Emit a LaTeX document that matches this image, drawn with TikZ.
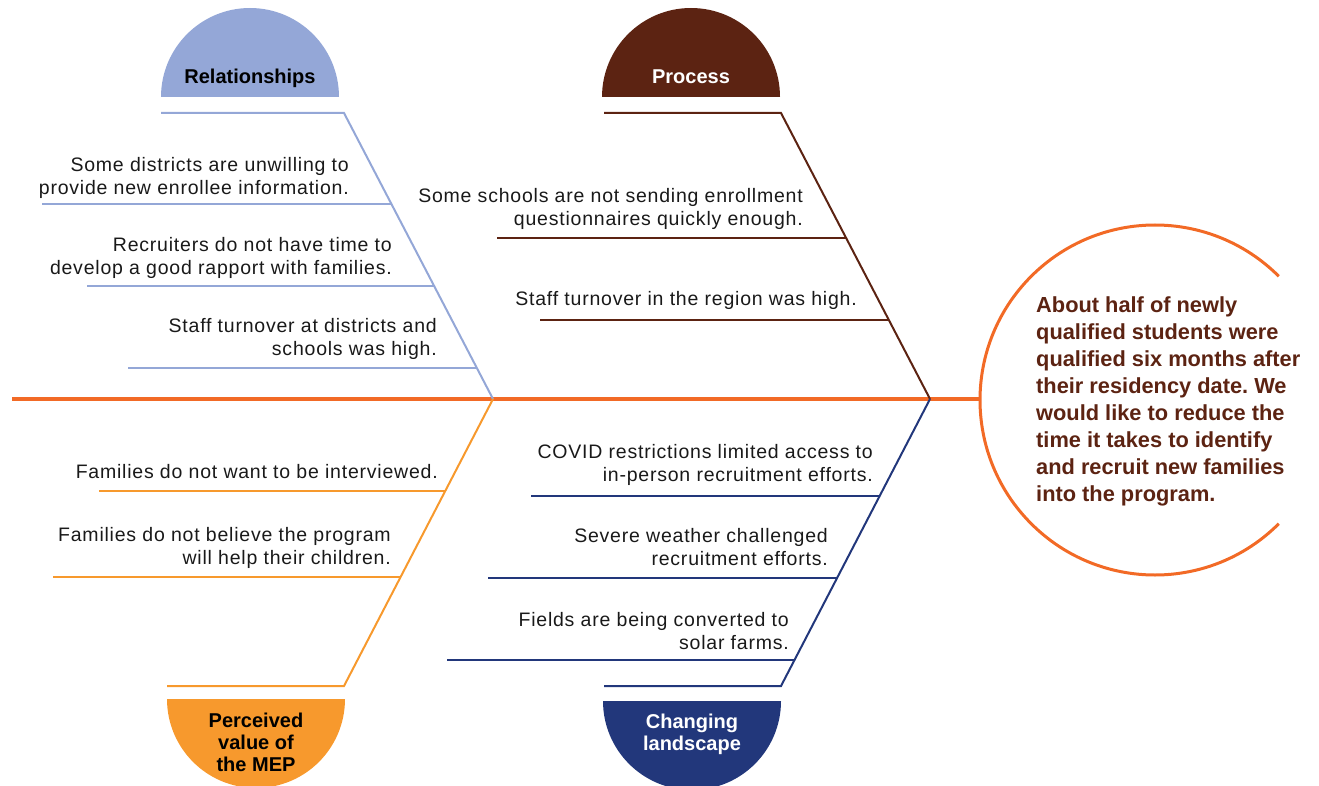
\documentclass[tikz,border=0pt]{standalone}
\usepackage{fontspec}
\setmainfont{Liberation Sans}
\newfontfamily\causefont[LetterSpace=4]{Liberation Sans}
\usepackage{xcolor}
\frenchspacing

\definecolor{spinecol}{RGB}{242,106,38}
\definecolor{relcol}{RGB}{148,167,215}
\definecolor{proccol}{RGB}{92,35,18}
\definecolor{valcol}{RGB}{247,153,45}
\definecolor{landcol}{RGB}{34,55,123}
\definecolor{causecol}{RGB}{25,25,25}

\begin{document}
\begin{tikzpicture}[x=1pt,y=-1pt,
        bone/.style={line width=2pt},
        cause/.style={font=\causefont\fontsize{19.5}{23}\selectfont,text=causecol,align=right,inner sep=0pt,anchor=east},
        head/.style={font=\bfseries\fontsize{20}{22}\selectfont,align=center,inner sep=0pt},
        goal/.style={font=\bfseries\fontsize{21.8}{27}\selectfont,text=proccol,align=left,inner sep=0pt,anchor=west}]
        \useasboundingbox (0,0) rectangle (1319,786);

        % half discs with the category names
        \fill[relcol]  (161,97) arc[start angle=180,end angle=0,radius=89pt] -- cycle;
        \fill[proccol] (602,97) arc[start angle=180,end angle=0,radius=89pt] -- cycle;
        \fill[valcol]  (167,699) arc[start angle=180,end angle=360,radius=89pt] -- cycle;
        \fill[landcol] (603,701) arc[start angle=180,end angle=360,radius=89pt] -- cycle;
        \node[head] (relhead) at (250,78) {Relationships};
        \node[head,text=white] (prochead) at (691,76.5) {Process};
        \node[head] (valhead) at (256,742.5) {Perceived\\value of\\the MEP};
        \node[head,text=white] (landhead) at (692,734.5) {Changing\\landscape};

        % spine and head circle
        \coordinate (tail) at (12,399);
        \coordinate (mouth) at (980,399);
        \draw[spinecol,line width=3.5pt] (tail) -- (mouth);
        \draw[spinecol,line width=3pt] (1155,400) ++(45:175pt) arc[start angle=45,end angle=315,radius=175pt];
        \node[goal] (problem) at (1036,401) {About half of newly\\qualified students were\\qualified six months after\\their residency date. We\\would like to reduce the\\time it takes to identify\\and recruit new families\\into the program.};

        % relationships
        \draw[bone,relcol] (161,113) -- (344,113) -- (493,399);
        \draw[bone,relcol] (42,204) -- (391.4,204);
        \draw[bone,relcol] (87,286) -- (434.1,286);
        \draw[bone,relcol] (128,368) -- (476.9,368);
        \node[cause] (rel1) at (349,178) {Some districts are unwilling to\\provide new enrollee information.};
        \node[cause] (rel2) at (392,258) {Recruiters do not have time to\\develop a good rapport with families.};
        \node[cause] (rel3) at (437,339) {Staff turnover at districts and\\schools was high.};

        % process
        \draw[bone,proccol] (604,113) -- (781,113) -- (930,399);
        \draw[bone,proccol] (497,238) -- (846.1,238);
        \draw[bone,proccol] (540,320) -- (888.8,320);
        \node[cause] (proc1) at (803,209) {Some schools are not sending enrollment\\questionnaires quickly enough.};
        \node[cause] (proc2) at (857,300) {Staff turnover in the region was high.};

        % perceived value
        \draw[bone,valcol] (493,399) -- (344,686) -- (167,686);
        \draw[bone,valcol] (99,491) -- (445.2,491);
        \draw[bone,valcol] (53,577) -- (400.6,577);
        \node[cause] (val1) at (438,472) {Families do not want to be interviewed.};
        \node[cause] (val2) at (391,548) {Families do not believe the program\\will help their children.};

        % changing landscape
        \draw[bone,landcol] (930,399) -- (781,686) -- (604,686);
        \draw[bone,landcol] (531,496) -- (879.7,496);
        \draw[bone,landcol] (488,578) -- (837.1,578);
        \draw[bone,landcol] (447,660) -- (794.5,660);
        \node[cause] (land1) at (873,465) {COVID restrictions limited access to\\in-person recruitment efforts.};
        \node[cause] (land2) at (828,547) {Severe weather challenged\\recruitment efforts.};
        \node[cause] (land3) at (789,631) {Fields are being converted to\\solar farms.};
\end{tikzpicture}
\end{document}
